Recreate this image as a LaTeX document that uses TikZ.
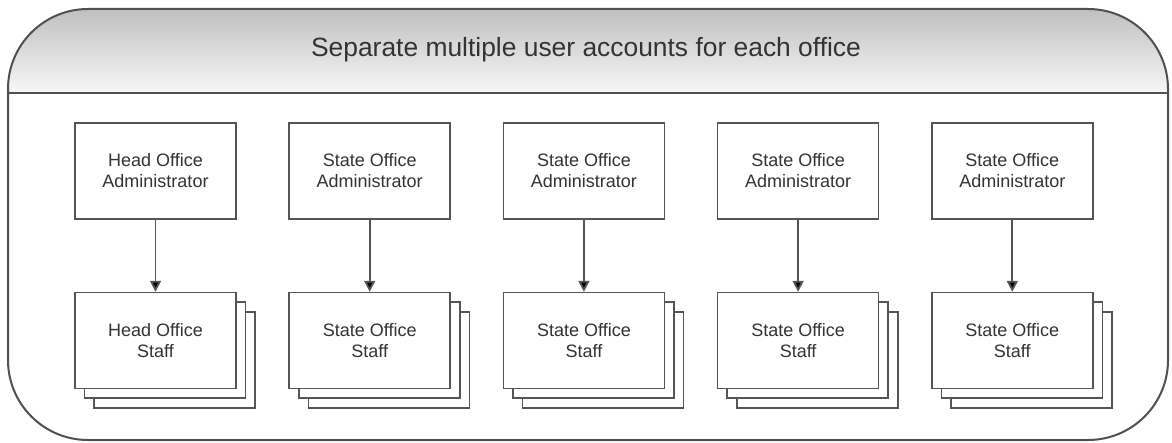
\documentclass[tikz,border=0pt]{standalone}
\usepackage{fontspec}
\setmainfont{Liberation Sans}
\usepackage{tikz}
\usetikzlibrary{
	positioning,
	arrows.meta,
	shadows
}

\definecolor{frameline}{HTML}{505050}
\definecolor{boxline}{HTML}{555555}
\definecolor{inktext}{HTML}{333333}

\tikzset{
	admin/.style={draw=boxline,line width=0.8pt,fill=white,text=inktext,
		minimum width=80.5pt,minimum height=48pt,align=center,
		font=\fontsize{9}{10.5}\selectfont},
	staff/.style={admin,
		double copy shadow={shadow xshift=4.8pt,shadow yshift=-4.8pt,
			draw=boxline,fill=white,line width=0.8pt}},
	link/.style={draw=boxline,line width=0.9pt,-{Triangle[width=5.5pt,length=5.5pt,fill=black]}}
}

\begin{document}
\begin{tikzpicture}[x=0.5pt,y=-0.5pt,node distance=36pt and 25.8pt]
		\useasboundingbox (0,0) rectangle (1172,443);

		% header band with gradient
		\begin{scope}
			\clip[rounded corners=40pt] (8,9) rectangle (1168,440);
			\shade[top color=black!25,bottom color=black!3] (8,9) rectangle (1168,93);
		\end{scope}
		\draw[frameline,line width=1pt,rounded corners=40pt] (8,9) rectangle (1168,440);
		\draw[frameline,line width=1pt] (8,93) -- (1168,93);
		\node[text=inktext,font=\fontsize{13.2}{15}\selectfont] (title) at (586,50)
			{Separate multiple user accounts for each office};

		\draw
			node[admin] at (155.5,171) (adm1) {Head Office\\Administrator}
			node[admin,right=of adm1]  (adm2) {State Office\\Administrator}
			node[admin,right=of adm2]  (adm3) {State Office\\Administrator}
			node[admin,right=of adm3]  (adm4) {State Office\\Administrator}
			node[admin,right=of adm4]  (adm5) {State Office\\Administrator}

			node[staff,below=of adm1]  (stf1) {Head Office\\Staff}
			node[staff,below=of adm2]  (stf2) {State Office\\Staff}
			node[staff,below=of adm3]  (stf3) {State Office\\Staff}
			node[staff,below=of adm4]  (stf4) {State Office\\Staff}
			node[staff,below=of adm5]  (stf5) {State Office\\Staff}
		;

		\foreach \i in {1,...,5}
			\draw[link] (adm\i) -- (stf\i);
	\end{tikzpicture}
\end{document}
